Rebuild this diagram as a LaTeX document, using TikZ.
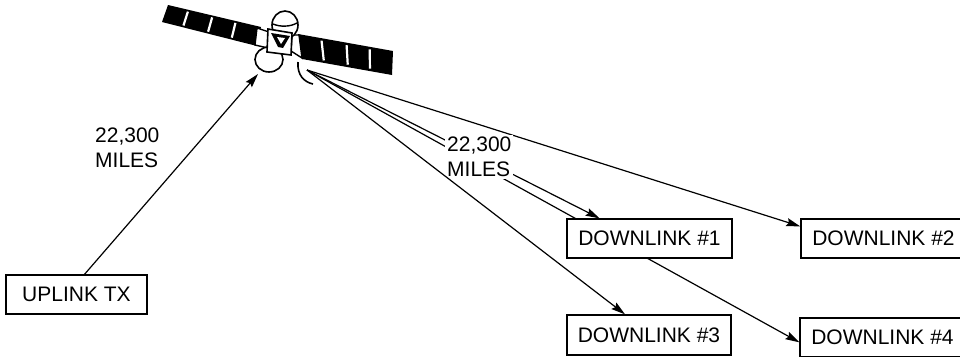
\documentclass[tikz,border=0pt]{standalone}
\usepackage{fontspec}
\setmainfont{Liberation Sans}
\usetikzlibrary{arrows.meta,calc}
\pgfdeclarelayer{bg}
\pgfsetlayers{bg,main}
\begin{document}
\begin{tikzpicture}[x=1pt,y=-1pt,
  station/.style={draw,fill=white,line width=1.3pt,minimum width=165pt,
    minimum height=39pt,inner sep=0pt,font=\fontsize{21}{25}\selectfont},
  link/.style={line width=1.2pt,-{Stealth[length=14pt,width=8pt,inset=2pt]}},
  dist/.style={align=left,inner sep=0pt,font=\fontsize{21}{25}\selectfont},
  hull/.style={draw,line width=1.6pt,fill=white},
  stripe/.style={white,line width=2.2pt}]
\clip (0,0) rectangle (960,356);

% ---------- satellite ----------
% solar panels
\coordinate (lpTL) at (168,5);  \coordinate (lpTR) at (261,27);
\coordinate (lpBR) at (257,46); \coordinate (lpBL) at (162,22);
\fill (lpTL) -- (lpTR) -- (lpBR) -- (lpBL) -- cycle;
\foreach \t in {0.22,0.48,0.73}{
  \coordinate (sa) at ($(lpTL)!\t!(lpTR)$);
  \coordinate (sb) at ($(lpBL)!\t!(lpBR)$);
  \draw[stripe] ($(sa)!0.1!(sb)$) -- ($(sa)!0.9!(sb)$);
}
\coordinate (rpTL) at (298,34); \coordinate (rpTR) at (393,51);
\coordinate (rpBR) at (392,75); \coordinate (rpBL) at (302,59);
\fill (rpTL) -- (rpTR) -- (rpBR) -- (rpBL) -- cycle;
\foreach \t in {0.245,0.51,0.755}{
  \coordinate (sa) at ($(rpTL)!\t!(rpTR)$);
  \coordinate (sb) at ($(rpBL)!\t!(rpBR)$);
  \draw[stripe] ($(sa)!0.1!(sb)$) -- ($(sa)!0.9!(sb)$);
}
% panel yokes
\draw[hull,line width=1.4pt] (257,28) -- (269,32) -- (268,48) -- (255,45) -- cycle;
\draw[hull,line width=1.4pt] (292,35) -- (299,35) -- (302,58) -- (291,51) -- cycle;
% antenna dishes
\draw[hull] (269,59.5) ellipse [x radius=14pt, y radius=12.5pt];
\draw[hull] (285,25) ellipse [x radius=13pt, y radius=14pt];
\draw[line width=1.4pt] (273,24) .. controls (280,27) and (290,27) .. (297,23);
% body
\draw[hull] (268,29) -- (292,33) -- (291,55) -- (267,52) -- cycle;
\fill (271,33) -- (290,36) -- (283,48) -- (278,47) -- cycle;
\fill[white] (277,37) -- (285,38) -- (281,44) -- cycle;
% beam edge
\draw[line width=1.6pt] (298,62) .. controls (297,75) and (304,82) .. (313,84);
\coordinate (beam) at (307,70);
\coordinate (uptip) at (258,74);

% ---------- ground stations ----------
\node[station,minimum width=141pt] (up) at (76.5,294.5) {UPLINK TX};
\node[station] (d1) at (649.5,238.5) {DOWNLINK \#1};
\node[station] (d2) at (883.5,238.5) {DOWNLINK \#2};
\node[station,minimum width=164pt,minimum height=40pt] (d3) at (649,335) {DOWNLINK \#3};
\node[station] (d4) at (882.5,337.5) {DOWNLINK \#4};

% ---------- distance labels ----------
\node[dist,anchor=north west] (upd) at (95,128) {22,300\\MILES};
\node[dist,anchor=north west,fill=white,inner sep=2pt] (downd) at (445,135) {22,300\\MILES};

% ---------- links ----------
\begin{pgfonlayer}{bg}
\draw[link] ($(up.north)+(8,0)$) -- (uptip);
\draw[link] (beam) -- ($(d1.north west)!0.2!(d1.north east)$);
\draw[link] (beam) -- ($(d2.north west)!0.2!(d2.south west)$);
\draw[link] (beam) -- ($(d4.north west)!0.62!(d4.south west)$);
\end{pgfonlayer}
\draw[link] (beam) -- ($(d3.north west)!0.355!(d3.north east)$);
\end{tikzpicture}
\end{document}
